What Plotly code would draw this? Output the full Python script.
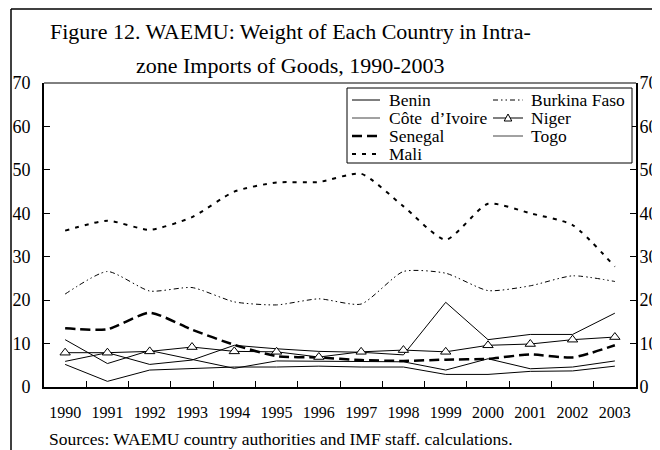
import plotly.graph_objects as go

years = [str(y) for y in range(1990, 2004)]
benin = [5.9, 7.9, 5.2, 6.2, 9.6, 8.8, 8.2, 8.0, 7.4, 19.5, 10.9, 12.1, 12.1, 17.0]
burkina = [21.4, 26.6, 22.1, 22.9, 19.6, 18.9, 20.3, 19.1, 26.6, 26.2, 22.2, 23.3, 25.6, 24.3]
cote = [10.9, 5.4, 8.4, 6.3, 4.3, 6.0, 5.9, 5.8, 5.8, 3.9, 6.5, 4.2, 4.6, 6.0]
niger = [7.9, 7.9, 8.2, 9.2, 8.2, 8.1, 6.9, 8.1, 8.5, 8.1, 9.6, 9.9, 10.9, 11.5]
senegal = [13.5, 13.3, 17.1, 13.2, 9.7, 7.1, 6.8, 6.2, 6.0, 6.3, 6.5, 7.5, 6.8, 9.6]
togo = [5.2, 1.3, 3.9, 4.2, 4.6, 4.6, 4.8, 4.6, 4.6, 2.9, 2.9, 3.6, 3.7, 4.8]
mali = [36.0, 38.3, 36.2, 39.1, 45.0, 47.1, 47.2, 49.1, 41.6, 33.9, 42.2, 40.0, 37.3, 27.7]

y_ticks = [0, 10, 20, 30, 40, 50, 60, 70]

# page body has an 8px margin; figure sized so it fits the 660x450 window
OFF = 8
W, H = 652, 442
L, R, T, B = 36, 24, 75, 63
PW, PH = W - L - R, H - T - B
FONT = "Liberation Serif"

def px(s):
    """screen x pixel -> paper x"""
    return (s - OFF - L) / PW

def py(s):
    """screen y pixel -> paper y"""
    return (H - B - (s - OFF)) / PH

BURK_DASH = "5px,3px,1.5px,3px,1.5px,3px"
SEN_DASH = "10px,5px"
MALI_DASH = "4px,6px"

fig = go.Figure()

series = [
    ("Togo", togo, dict(color="black", width=1), "linear"),
    ("Côte d'Ivoire", cote, dict(color="black", width=1), "linear"),
    ("Benin", benin, dict(color="black", width=1), "linear"),
    ("Burkina Faso", burkina, dict(color="black", width=1, dash=BURK_DASH), "spline"),
    ("Senegal", senegal, dict(color="black", width=2.5, dash=SEN_DASH), "spline"),
    ("Mali", mali, dict(color="black", width=2, dash=MALI_DASH), "spline"),
]
for name, vals, line, shape in series:
    line = dict(line)
    line["shape"] = shape
    if shape == "spline":
        line["smoothing"] = 0.6
    fig.add_trace(go.Scatter(x=years, y=vals, name=name, mode="lines", line=line,
                             showlegend=False))

fig.add_trace(go.Scatter(x=years, y=niger, name="Niger", mode="lines+markers",
                         line=dict(color="black", width=1),
                         marker=dict(symbol="triangle-up", size=9, color="white",
                                     line=dict(color="black", width=1)),
                         showlegend=False))
# right-hand axis carries the same scale
fig.add_trace(go.Scatter(x=years, y=mali, yaxis="y2", mode="lines",
                         line=dict(width=0), hoverinfo="skip", showlegend=False,
                         opacity=0))

axis_common = dict(range=[0, 70], tickvals=y_ticks, ticks="inside", ticklen=6,
                   tickcolor="black", showline=True, linecolor="black", linewidth=2,
                   showgrid=False, zeroline=False,
                   tickfont=dict(family=FONT, size=18, color="black"))

fig.update_layout(
    width=W, height=H,
    margin=dict(l=L, r=R, t=T, b=B, autoexpand=False),
    paper_bgcolor="white", plot_bgcolor="white",
    font=dict(family=FONT, color="black"),
    xaxis=dict(type="category", tickson="boundaries", ticks="inside", ticklen=6,
               tickcolor="black", showline=True, linecolor="black", linewidth=2,
               showgrid=False, zeroline=False, range=[-0.5, 13.5],
               tickangle=0, ticklabelstandoff=10, automargin=False,
               tickfont=dict(family=FONT, size=16, color="black")),
    yaxis=dict(**axis_common, side="left", ticklabelstandoff=8, automargin=False),
    yaxis2=dict(**axis_common, side="right", overlaying="y", ticklabelstandoff=-2,
                automargin=False),
)

shapes = []
# top border of plot area
shapes.append(dict(type="line", xref="paper", yref="paper", x0=0, x1=1, y0=1, y1=1,
                   line=dict(color="black", width=1)))
# outer frame (top + left)
shapes.append(dict(type="line", xref="paper", yref="paper", x0=px(11), x1=px(665),
                   y0=py(9), y1=py(9), line=dict(color="black", width=1.5)))
shapes.append(dict(type="line", xref="paper", yref="paper", x0=px(11), x1=px(11),
                   y0=py(9), y1=py(455), line=dict(color="black", width=1.5)))
# legend box
shapes.append(dict(type="rect", xref="paper", yref="paper", x0=px(347), x1=px(632),
                   y0=py(88), y1=py(163), line=dict(color="black", width=1),
                   fillcolor="white", layer="above"))

legend_items = [
    ("Benin", 0, 0, dict(color="black", width=1), False),
    ("Burkina Faso", 1, 0, dict(color="black", width=1, dash=BURK_DASH), False),
    ("Côte\u00a0 d’Ivoire", 0, 1, dict(color="#444", width=1), False),
    ("Niger", 1, 1, dict(color="black", width=1), True),
    ("Senegal", 0, 2, dict(color="black", width=2.5, dash=SEN_DASH), False),
    ("Togo", 1, 2, dict(color="#444", width=1), False),
    ("Mali", 0, 3, dict(color="black", width=2, dash=MALI_DASH), False),
]
col_line = [(352, 380), (493, 523)]
col_text = [388, 530]
row_y = [100, 118, 136, 154]
annotations = []
for label, c, r, ln, tri in legend_items:
    yy = row_y[r]
    shapes.append(dict(type="line", xref="paper", yref="paper",
                       x0=px(col_line[c][0]), x1=px(col_line[c][1]),
                       y0=py(yy), y1=py(yy), line=ln, layer="above"))
    if tri:
        cx = (col_line[c][0] + col_line[c][1]) / 2
        path = "M {} {} L {} {} L {} {} Z".format(
            px(cx - 3.8), py(yy + 3), px(cx + 3.8), py(yy + 3), px(cx), py(yy - 4))
        shapes.append(dict(type="path", xref="paper", yref="paper", path=path,
                           fillcolor="white", line=dict(color="black", width=1),
                           layer="above"))
    annotations.append(dict(text=label, xref="paper", yref="paper", x=px(col_text[c]),
                            y=py(yy), xanchor="left", yanchor="middle", showarrow=False,
                            borderpad=0,
                            font=dict(family=FONT, size=17.5, color="black")))

annotations.append(dict(text="Figure 12. WAEMU: Weight of Each Country in Intra-",
                        xref="paper", yref="paper", x=px(290), y=py(31),
                        xanchor="center", yanchor="middle", showarrow=False,
                        font=dict(family=FONT, size=22, color="black")))
annotations.append(dict(text="zone Imports of Goods, 1990-2003",
                        xref="paper", yref="paper", x=px(290), y=py(65),
                        xanchor="center", yanchor="middle", showarrow=False,
                        font=dict(family=FONT, size=22, color="black")))
annotations.append(dict(text="Sources: WAEMU country authorities and IMF staff. calculations.",
                        xref="paper", yref="paper", x=px(47), y=py(439),
                        xanchor="left", yanchor="middle", showarrow=False,
                        font=dict(family=FONT, size=17.5, color="black")))

fig.update_layout(shapes=shapes, annotations=annotations)
fig.write_html("out.html")
